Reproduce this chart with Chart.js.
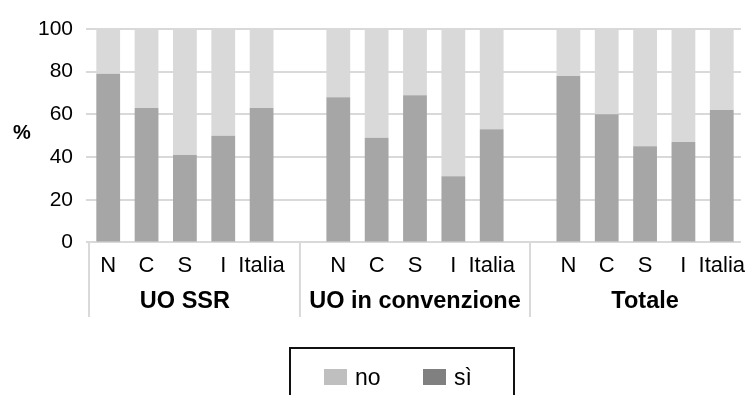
<!DOCTYPE html>
<html>
<head>
<meta charset="utf-8">
<script src="https://cdn.jsdelivr.net/npm/chart.js@4/dist/chart.umd.min.js"></script>
<style>
  html, body { margin: 0; padding: 0; background: #fff; overflow: hidden; }
  #wrap { position: relative; width: 745px; height: 395px; }
  #legend {
    position: absolute; left: 289px; top: 347px; width: 222px; height: 60px;
    border: 2px solid #111; font-family: 'Liberation Sans', Arial, sans-serif;
    font-size: 23px; color: #000;
  }
  #legend .item { position: absolute; top: 15px; height: 26px; line-height: 26px; }
  #legend .sw { display: inline-block; width: 23px; height: 16px; vertical-align: middle; margin-right: 8px; margin-top: -3px; }
</style>
</head>
<body>
<div id="wrap">
  <canvas id="chart" width="745" height="395"></canvas>
  <div id="legend">
    <div class="item" style="left:33px"><span class="sw" style="background:#bfbfbf"></span>no</div>
    <div class="item" style="left:132px"><span class="sw" style="background:#808080"></span>sì</div>
  </div>
</div>
<script>
// categories
const groups = ['UO SSR', 'UO in convenzione', 'Totale'];
const areas = ['N', 'C', 'S', 'I', 'Italia'];

// % "sì" per group
const ssrSi = [79, 63, 41, 50, 63];
const convSi = [68, 49, 69, 31, 53];
const totSi = [78, 60, 45, 47, 62];

// % "no"
const ssrNo = [21, 37, 59, 50, 37];
const convNo = [32, 51, 31, 69, 47];
const totNo = [22, 40, 55, 53, 38];

// 5 bars + 1 empty slot between groups
function joinGroups(a, b, c) {
  return [...a, null, ...b, null, ...c];
}
const labels = joinGroups(areas, areas, areas).map(l => l === null ? '' : l);
const groupLabels = labels.map((l, i) => (i % 6 === 2) ? groups[Math.floor(i / 6)] : '');
const gapIndex = [5, 11];

const separators = {
  id: 'separators',
  afterDraw(chart) {
    const x = chart.scales.x, x2 = chart.scales.x2;
    const ctx = chart.ctx;
    const top = chart.chartArea.bottom;
    const bottom = x2.bottom - 8;
    const xs = [x.left].concat(gapIndex.map(i => x.getPixelForValue(i)));
    ctx.save();
    ctx.strokeStyle = '#d9d9d9';
    ctx.lineWidth = 2;
    xs.forEach(px => {
      ctx.beginPath();
      ctx.moveTo(px, top);
      ctx.lineTo(px, bottom);
      ctx.stroke();
    });
    // "%" unit label, horizontal
    const y = chart.scales.y;
    ctx.fillStyle = '#000';
    ctx.font = 'bold 20px "Liberation Sans", Arial, sans-serif';
    ctx.textAlign = 'center';
    ctx.textBaseline = 'middle';
    ctx.fillText('%', 22, y.getPixelForValue(51));
    ctx.restore();
  }
};

const ctx = document.getElementById('chart');
new Chart(ctx, {
  type: 'bar',
  data: {
    labels: labels,
    datasets: [
      {
        label: 'sì',
        data: joinGroups(ssrSi, convSi, totSi),
        backgroundColor: '#a6a6a6',
        borderWidth: 0
      },
      {
        label: 'no',
        data: joinGroups(ssrNo, convNo, totNo),
        backgroundColor: '#d9d9d9',
        borderWidth: 0
      }
    ]
  },
  options: {
    responsive: false,
    animation: false,
    devicePixelRatio: 1,
    layout: { padding: { left: 25, top: 29, right: 0, bottom: 70 } },
    datasets: { bar: { categoryPercentage: 1, barPercentage: 0.62 } },
    plugins: {
      legend: { display: false },
      tooltip: { enabled: false }
    },
    scales: {
      x: {
        stacked: true,
        grid: { display: false, drawTicks: true, tickLength: 10 },
        border: { display: false },
        ticks: {
          color: '#000',
          padding: 0,
          maxRotation: 0,
          autoSkip: false,
          font: { family: 'Liberation Sans', size: 22 }
        }
      },
      x2: {
        type: 'category',
        labels: groupLabels,
        position: 'bottom',
        grid: { display: false, drawTicks: false },
        border: { display: false },
        ticks: {
          color: '#000',
          padding: 9,
          maxRotation: 0,
          autoSkip: false,
          font: { family: 'Liberation Sans', size: 23.5, weight: 'bold' }
        }
      },
      y: {
        stacked: true,
        min: 0,
        max: 100,
        border: { display: false },
        grid: { color: '#d9d9d9', lineWidth: 2, tickLength: 3 },
        ticks: {
          stepSize: 20,
          color: '#000',
          padding: 13,
          font: { family: 'Liberation Sans', size: 21 }
        }
      }
    }
  },
  plugins: [separators]
});
</script>
</body>
</html>
